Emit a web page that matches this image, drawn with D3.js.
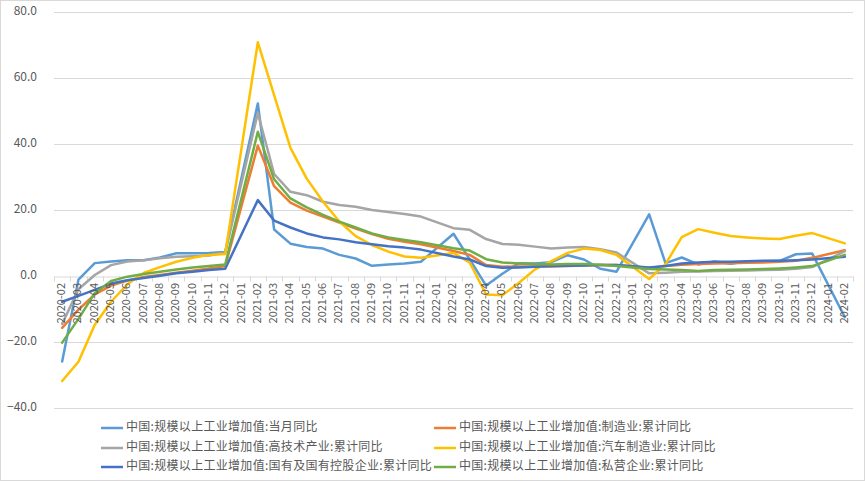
<!DOCTYPE html>
<html><head><meta charset="utf-8">
<script src="https://cdn.jsdelivr.net/npm/d3@7/dist/d3.min.js"></script>
<style>
html,body{margin:0;padding:0;background:#fff;}
svg{display:block;font-family:"Noto Sans CJK SC","Noto Sans",sans-serif;}
</style></head>
<body>
<svg id="chart" width="865" height="481"></svg>
<script>
const categories = [
 "2020-02","2020-03","2020-04","2020-05","2020-06","2020-07","2020-08","2020-09","2020-10","2020-11","2020-12",
 "2021-01","2021-02","2021-03","2021-04","2021-05","2021-06","2021-07","2021-08","2021-09","2021-10","2021-11","2021-12",
 "2022-01","2022-02","2022-03","2022-04","2022-05","2022-06","2022-07","2022-08","2022-09","2022-10","2022-11","2022-12",
 "2023-01","2023-02","2023-03","2023-04","2023-05","2023-06","2023-07","2023-08","2023-09","2023-10","2023-11","2023-12",
 "2024-01","2024-02"];

const monthly = [-25.9,-1.1,3.9,4.4,4.8,4.8,5.6,6.9,6.9,7.0,7.3,null,52.3,14.1,9.8,8.8,8.3,6.4,5.3,3.1,3.5,3.8,4.3,null,12.8,5.0,-2.9,0.7,3.9,3.8,4.2,6.3,5.0,2.2,1.3,null,18.7,3.9,5.6,3.5,4.4,3.7,4.5,4.5,4.6,6.6,6.8,null,-12.5];
const manufacturing = [-15.7,-10.2,-5.6,-2.9,-1.4,-0.3,0.3,1.0,1.6,2.3,3.0,null,39.5,27.2,22.2,19.8,18.0,16.2,14.4,12.7,11.3,10.4,9.6,null,7.6,6.4,3.3,2.8,2.9,2.9,2.9,3.0,3.2,3.3,3.3,null,2.4,3.0,3.4,3.6,3.8,3.9,4.0,4.1,4.3,4.6,5.5,null,7.8];
const hightech = [-14.5,-4.0,0.3,3.3,4.4,4.8,5.4,5.8,6.0,6.2,7.1,null,49.4,30.9,25.5,24.5,22.5,21.5,21.0,20.0,19.4,18.8,18.0,null,14.5,14.0,11.2,9.7,9.5,8.9,8.3,8.6,8.8,8.1,7.1,null,0.8,1.0,1.3,1.4,1.5,1.6,1.7,1.8,1.9,2.2,2.7,null,7.5];
const auto = [-31.8,-26.0,-14.8,-7.8,-2.5,0.9,2.7,4.3,5.5,6.4,6.7,null,70.8,54.8,38.8,29.5,22.5,16.5,12.1,9.4,7.4,5.9,5.5,null,7.0,4.0,-5.6,-5.8,-2.1,2.0,4.5,7.0,8.3,7.9,6.4,null,-0.9,3.6,11.8,14.2,13.1,12.1,11.7,11.4,11.2,12.2,13.0,null,9.9];
const stateOwned = [-7.8,-6.0,-4.2,-2.3,-1.3,-0.6,0.1,0.8,1.3,1.8,2.2,null,23.0,16.8,14.7,12.9,11.7,11.1,10.2,9.6,9.0,8.6,8.0,null,5.9,5.0,3.0,2.5,2.6,2.8,3.0,3.1,3.2,3.3,3.3,null,2.6,3.0,3.8,4.1,4.3,4.3,4.5,4.6,4.6,4.8,5.0,null,5.8];
const privateEnt = [-20.2,-13.0,-5.2,-1.5,-0.2,0.6,1.3,2.0,2.6,3.0,3.5,null,43.7,29.3,23.5,20.8,18.5,16.5,14.7,12.9,11.7,10.9,10.2,null,8.4,7.7,5.1,4.1,3.8,3.6,3.5,3.6,3.6,3.4,3.0,null,2.1,2.0,1.8,1.5,1.8,1.9,2.0,2.1,2.3,2.6,3.0,null,6.4];

const seriesNames = [
 "中国:规模以上工业增加值:当月同比",
 "中国:规模以上工业增加值:制造业:累计同比",
 "中国:规模以上工业增加值:高技术产业:累计同比",
 "中国:规模以上工业增加值:汽车制造业:累计同比",
 "中国:规模以上工业增加值:国有及国有控股企业:累计同比",
 "中国:规模以上工业增加值:私营企业:累计同比"];
const seriesValues = [monthly, manufacturing, hightech, auto, stateOwned, privateEnt];
const colors = ["#5B9BD5","#ED7D31","#A5A5A5","#FFC000","#4472C4","#70AD47"];
const yTicks = [-40,-20,0,20,40,60,80];

const svg = d3.select("#chart");
svg.append("rect").attr("x",0.5).attr("y",0.5).attr("width",864).attr("height",480)
  .attr("fill","#fff").attr("stroke","#d9d9d9");

const x = d3.scaleBand().domain(categories).range([54, 853]).padding(0);
const y = d3.scaleLinear().domain([-40, 80]).range([408, 12]);
const cx = d => x(d) + x.bandwidth()/2;

// gridlines
svg.append("g").selectAll("line").data(yTicks.filter(t => t !== 0)).join("line")
  .attr("x1", 54).attr("x2", 853)
  .attr("y1", d => Math.round(y(d))+0.5).attr("y2", d => Math.round(y(d))+0.5)
  .attr("stroke","#d9d9d9").attr("stroke-width",1);

// y labels
svg.append("g").selectAll("text").data(yTicks).join("text")
  .attr("x", 37).attr("y", d => y(d)).attr("text-anchor","end")
  .attr("dominant-baseline","middle").attr("font-size",12).attr("fill","#595959")
  .text(d => d3.format(".1f")(d));

// category axis at zero
const y0 = Math.round(y(0)) + 0.5;
const xAxis = d3.axisBottom(x).tickSize(0).tickFormat("");
const ax = svg.append("g").attr("transform", `translate(0,${y0})`).call(xAxis);
ax.select(".domain").attr("stroke","#d9d9d9");
const bounds = categories.map(c => x(c)).concat([x(categories[categories.length-1]) + x.bandwidth()]);
svg.append("g").selectAll("line").data(bounds).join("line")
  .attr("x1", d => Math.round(d)+0.5).attr("x2", d => Math.round(d)+0.5)
  .attr("y1", y0).attr("y2", y0+5).attr("stroke","#d9d9d9");

// lines
const line = d3.line().x(d => cx(d.c)).y(d => y(d.v));
seriesValues.forEach((vals, i) => {
  const pts = categories.map((c, j) => ({c, v: vals[j]})).filter(d => d.v !== null);
  svg.append("path").datum(pts).attr("d", line)
    .attr("fill","none").attr("stroke", colors[i]).attr("stroke-width",2.5)
    .attr("stroke-linejoin","round").attr("stroke-linecap","round");
});

// x labels
svg.append("g").selectAll("text").data(categories).join("text")
  .attr("transform", d => `translate(${cx(d)},283) rotate(-90)`)
  .attr("text-anchor","end").attr("dominant-baseline","middle")
  .attr("font-size",11).attr("fill","#595959").text(d => d);

// legend
const legendPos = [[101,428],[434,428],[101,448],[434,448],[101,467],[434,467]];
const lg = svg.append("g").selectAll("g").data(seriesNames).join("g")
  .attr("transform", (d,i) => `translate(${legendPos[i][0]},${legendPos[i][1]})`);
lg.append("line").attr("x1",0).attr("x2",22).attr("y1",0).attr("y2",0)
  .attr("stroke",(d,i)=>colors[i]).attr("stroke-width",2.5);
lg.append("text").attr("x",25).attr("y",0).attr("dominant-baseline","middle")
  .attr("font-size",12).attr("letter-spacing",0.3).attr("fill","#595959").text(d => d);
</script>
</body></html>
